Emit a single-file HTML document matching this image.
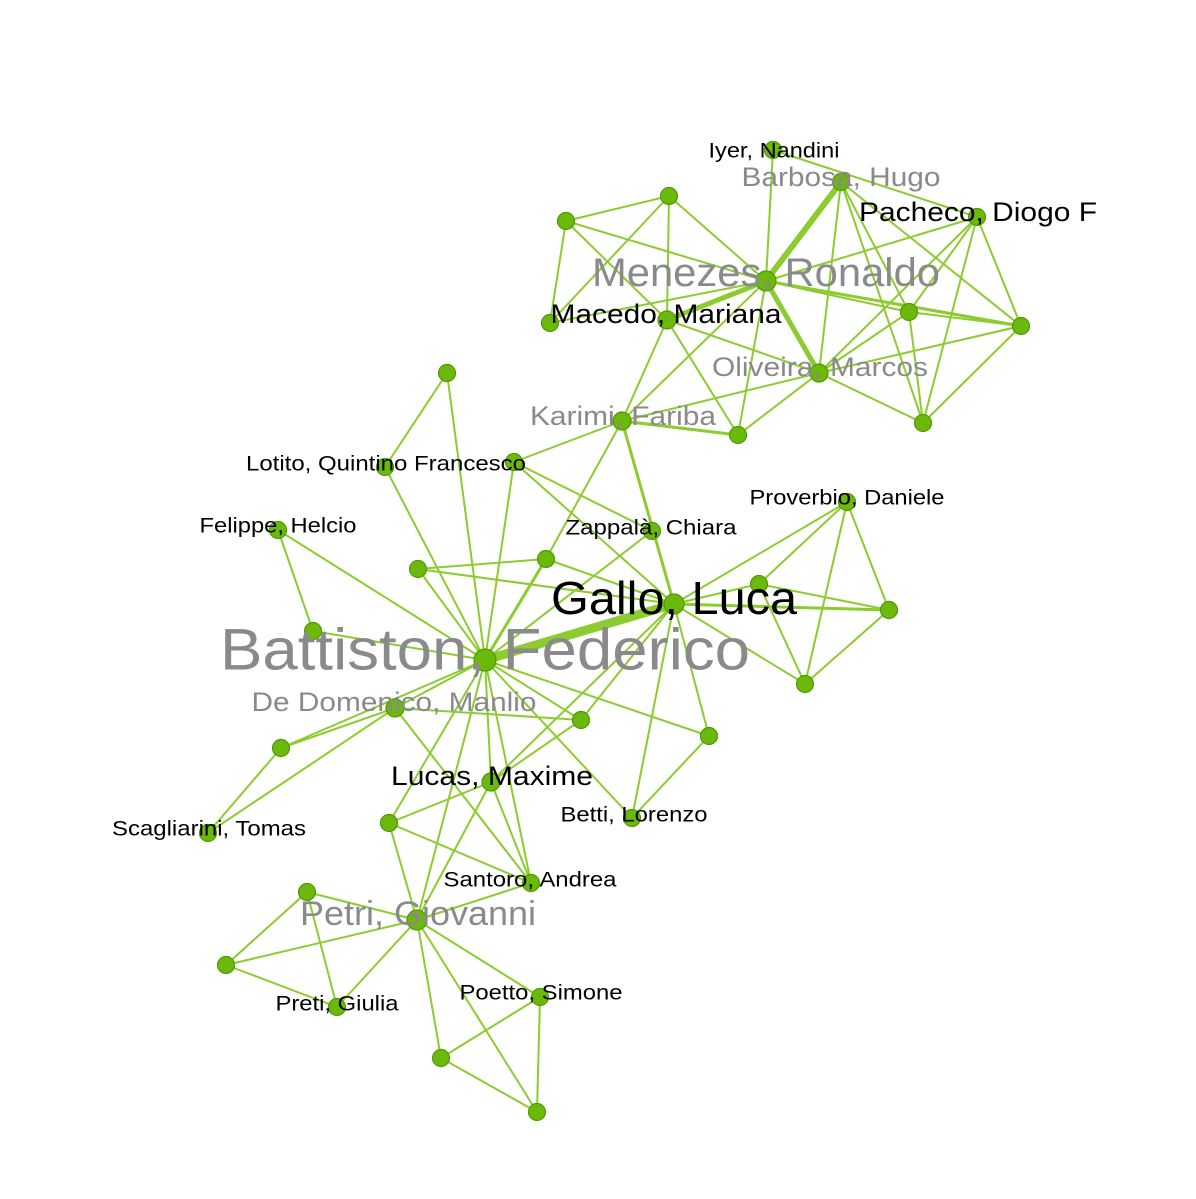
<!DOCTYPE html>
<html><head><meta charset="utf-8"><style>
html,body{margin:0;padding:0;background:#fff;}
svg{display:block;}
text{font-family:"Liberation Sans",sans-serif;text-anchor:middle;dominant-baseline:central;}
</style></head><body>
<svg width="1196" height="1199" viewBox="0 0 1196 1199">
<g stroke="#8ccc2e" stroke-width="2" fill="none" stroke-linecap="round">
<line x1="566" y1="221" x2="669" y2="196"/>
<line x1="566" y1="221" x2="550" y2="323"/>
<line x1="566" y1="221" x2="766" y2="281"/>
<line x1="566" y1="221" x2="667" y2="320"/>
<line x1="669" y1="196" x2="550" y2="323"/>
<line x1="669" y1="196" x2="667" y2="320"/>
<line x1="669" y1="196" x2="766" y2="281"/>
<line x1="550" y1="323" x2="766" y2="281"/>
<line x1="667" y1="320" x2="766" y2="281" stroke-width="5"/>
<line x1="773" y1="150" x2="766" y2="281"/>
<line x1="773" y1="150" x2="977" y2="217"/>
<line x1="841" y1="182" x2="766" y2="281" stroke-width="6"/>
<line x1="841" y1="182" x2="819" y2="373"/>
<line x1="841" y1="182" x2="923" y2="423"/>
<line x1="841" y1="182" x2="909" y2="312"/>
<line x1="841" y1="182" x2="1021" y2="326"/>
<line x1="977" y1="217" x2="766" y2="281"/>
<line x1="977" y1="217" x2="909" y2="312"/>
<line x1="977" y1="217" x2="819" y2="373"/>
<line x1="977" y1="217" x2="923" y2="423"/>
<line x1="977" y1="217" x2="1021" y2="326"/>
<line x1="766" y1="281" x2="819" y2="373" stroke-width="5"/>
<line x1="766" y1="281" x2="909" y2="312"/>
<line x1="766" y1="281" x2="1021" y2="326" stroke-width="3"/>
<line x1="766" y1="281" x2="738" y2="435"/>
<line x1="766" y1="281" x2="622" y2="421"/>
<line x1="667" y1="320" x2="622" y2="421"/>
<line x1="667" y1="320" x2="738" y2="435"/>
<line x1="667" y1="320" x2="819" y2="373"/>
<line x1="819" y1="373" x2="622" y2="421"/>
<line x1="819" y1="373" x2="738" y2="435"/>
<line x1="819" y1="373" x2="909" y2="312"/>
<line x1="819" y1="373" x2="1021" y2="326"/>
<line x1="819" y1="373" x2="923" y2="423"/>
<line x1="909" y1="312" x2="923" y2="423"/>
<line x1="909" y1="312" x2="1021" y2="326"/>
<line x1="1021" y1="326" x2="923" y2="423"/>
<line x1="622" y1="421" x2="738" y2="435" stroke-width="3"/>
<line x1="447" y1="373" x2="385" y2="467"/>
<line x1="447" y1="373" x2="485" y2="660"/>
<line x1="385" y1="467" x2="485" y2="660"/>
<line x1="514" y1="462" x2="622" y2="421"/>
<line x1="514" y1="462" x2="485" y2="660"/>
<line x1="514" y1="462" x2="652" y2="531"/>
<line x1="514" y1="462" x2="674" y2="604"/>
<line x1="622" y1="421" x2="674" y2="604" stroke-width="3"/>
<line x1="622" y1="421" x2="546" y2="559"/>
<line x1="278" y1="530" x2="313" y2="631"/>
<line x1="278" y1="530" x2="485" y2="660"/>
<line x1="313" y1="631" x2="485" y2="660"/>
<line x1="418" y1="569" x2="546" y2="559"/>
<line x1="418" y1="569" x2="674" y2="604"/>
<line x1="418" y1="569" x2="485" y2="660"/>
<line x1="546" y1="559" x2="485" y2="660" stroke-width="3"/>
<line x1="546" y1="559" x2="674" y2="604"/>
<line x1="652" y1="531" x2="485" y2="660"/>
<line x1="485" y1="660" x2="674" y2="604" stroke-width="9"/>
<line x1="674" y1="604" x2="847" y2="502"/>
<line x1="674" y1="604" x2="759" y2="584"/>
<line x1="674" y1="604" x2="889" y2="610" stroke-width="3"/>
<line x1="674" y1="604" x2="805" y2="684"/>
<line x1="674" y1="604" x2="709" y2="736"/>
<line x1="674" y1="604" x2="491" y2="782"/>
<line x1="674" y1="604" x2="632" y2="818"/>
<line x1="674" y1="604" x2="581" y2="720"/>
<line x1="847" y1="502" x2="759" y2="584"/>
<line x1="847" y1="502" x2="889" y2="610"/>
<line x1="847" y1="502" x2="805" y2="684"/>
<line x1="759" y1="584" x2="889" y2="610"/>
<line x1="759" y1="584" x2="805" y2="684"/>
<line x1="889" y1="610" x2="805" y2="684"/>
<line x1="485" y1="660" x2="395" y2="708"/>
<line x1="485" y1="660" x2="581" y2="720"/>
<line x1="485" y1="660" x2="709" y2="736"/>
<line x1="485" y1="660" x2="491" y2="782"/>
<line x1="485" y1="660" x2="632" y2="818"/>
<line x1="485" y1="660" x2="417" y2="920"/>
<line x1="485" y1="660" x2="389" y2="823"/>
<line x1="485" y1="660" x2="531" y2="883"/>
<line x1="485" y1="660" x2="281" y2="748"/>
<line x1="395" y1="708" x2="581" y2="720"/>
<line x1="395" y1="708" x2="281" y2="748"/>
<line x1="395" y1="708" x2="208" y2="833"/>
<line x1="395" y1="708" x2="531" y2="883"/>
<line x1="281" y1="748" x2="208" y2="833"/>
<line x1="581" y1="720" x2="491" y2="782"/>
<line x1="709" y1="736" x2="632" y2="818"/>
<line x1="491" y1="782" x2="389" y2="823"/>
<line x1="491" y1="782" x2="531" y2="883"/>
<line x1="491" y1="782" x2="417" y2="920"/>
<line x1="389" y1="823" x2="531" y2="883"/>
<line x1="389" y1="823" x2="417" y2="920"/>
<line x1="531" y1="883" x2="417" y2="920"/>
<line x1="417" y1="920" x2="307" y2="892"/>
<line x1="417" y1="920" x2="226" y2="965"/>
<line x1="417" y1="920" x2="337" y2="1007"/>
<line x1="417" y1="920" x2="540" y2="997"/>
<line x1="417" y1="920" x2="441" y2="1058"/>
<line x1="417" y1="920" x2="537" y2="1112"/>
<line x1="307" y1="892" x2="226" y2="965"/>
<line x1="307" y1="892" x2="337" y2="1007"/>
<line x1="226" y1="965" x2="337" y2="1007"/>
<line x1="540" y1="997" x2="441" y2="1058"/>
<line x1="540" y1="997" x2="537" y2="1112"/>
<line x1="441" y1="1058" x2="537" y2="1112"/>
</g>
<g fill="#6cb80b" stroke="#4e9a06" stroke-width="1.2">
<circle cx="773" cy="150" r="8.5"/><circle cx="841" cy="182" r="8.5"/><circle cx="977" cy="217" r="8.5"/>
<circle cx="566" cy="221" r="8.5"/><circle cx="669" cy="196" r="8.5"/><circle cx="766" cy="281" r="10"/>
<circle cx="667" cy="320" r="9"/><circle cx="550" cy="323" r="8.5"/><circle cx="909" cy="312" r="8.5"/>
<circle cx="1021" cy="326" r="8.5"/><circle cx="819" cy="373" r="9"/><circle cx="622" cy="421" r="9"/>
<circle cx="738" cy="435" r="8.5"/><circle cx="923" cy="423" r="8.5"/>
<circle cx="447" cy="373" r="8.5"/><circle cx="385" cy="467" r="8.5"/><circle cx="514" cy="462" r="8.5"/>
<circle cx="278" cy="530" r="8.5"/><circle cx="652" cy="531" r="8.5"/><circle cx="847" cy="502" r="8.5"/>
<circle cx="418" cy="569" r="8.5"/><circle cx="546" cy="559" r="8.5"/><circle cx="759" cy="584" r="8.5"/>
<circle cx="674" cy="604" r="10"/><circle cx="889" cy="610" r="8.5"/><circle cx="313" cy="631" r="8.5"/>
<circle cx="485" cy="660" r="11"/><circle cx="805" cy="684" r="8.5"/><circle cx="395" cy="708" r="9"/>
<circle cx="581" cy="720" r="8.5"/><circle cx="709" cy="736" r="8.5"/><circle cx="281" cy="748" r="8.5"/>
<circle cx="491" cy="782" r="9"/><circle cx="389" cy="823" r="8.5"/><circle cx="632" cy="818" r="8.5"/>
<circle cx="208" cy="833" r="8.5"/><circle cx="531" cy="883" r="8.5"/><circle cx="307" cy="892" r="8.5"/>
<circle cx="417" cy="920" r="10"/><circle cx="226" cy="965" r="8.5"/><circle cx="337" cy="1007" r="8.5"/>
<circle cx="540" cy="997" r="8.5"/><circle cx="441" cy="1058" r="8.5"/><circle cx="537" cy="1112" r="8.5"/>
</g>
<g lengthAdjust="spacingAndGlyphs">
<text x="485" y="650" font-size="58" fill="#8a8a8a" textLength="530" lengthAdjust="spacingAndGlyphs">Battiston, Federico</text>
<text x="674" y="598" font-size="46" fill="#000" textLength="246" lengthAdjust="spacingAndGlyphs">Gallo, Luca</text>
<text x="766" y="273" font-size="40" fill="#8a8a8a" textLength="348" lengthAdjust="spacingAndGlyphs">Menezes, Ronaldo</text>
<text x="418" y="914" font-size="34" fill="#8a8a8a" textLength="236" lengthAdjust="spacingAndGlyphs">Petri, Giovanni</text>
<text x="666" y="314" font-size="27" fill="#000" textLength="231" lengthAdjust="spacingAndGlyphs">Macedo, Mariana</text>
<text x="978" y="212" font-size="27" fill="#000" textLength="238" lengthAdjust="spacingAndGlyphs">Pacheco, Diogo F</text>
<text x="492" y="776" font-size="27" fill="#000" textLength="202" lengthAdjust="spacingAndGlyphs">Lucas, Maxime</text>
<text x="820" y="367" font-size="27" fill="#8a8a8a" textLength="216" lengthAdjust="spacingAndGlyphs">Oliveira, Marcos</text>
<text x="623" y="416" font-size="27" fill="#8a8a8a" textLength="186" lengthAdjust="spacingAndGlyphs">Karimi, Fariba</text>
<text x="841" y="177" font-size="27" fill="#8a8a8a" textLength="199" lengthAdjust="spacingAndGlyphs">Barbosa, Hugo</text>
<text x="394" y="702" font-size="27" fill="#8a8a8a" textLength="285" lengthAdjust="spacingAndGlyphs">De Domenico, Manlio</text>
<text x="774" y="151" font-size="21" fill="#000" textLength="131" lengthAdjust="spacingAndGlyphs">Iyer, Nandini</text>
<text x="386" y="464" font-size="21" fill="#000" textLength="280" lengthAdjust="spacingAndGlyphs">Lotito, Quintino Francesco</text>
<text x="278" y="526" font-size="21" fill="#000" textLength="157" lengthAdjust="spacingAndGlyphs">Felippe, Helcio</text>
<text x="651" y="528" font-size="21" fill="#000" textLength="171" lengthAdjust="spacingAndGlyphs">Zappalà, Chiara</text>
<text x="847" y="498" font-size="21" fill="#000" textLength="195" lengthAdjust="spacingAndGlyphs">Proverbio, Daniele</text>
<text x="634" y="815" font-size="21" fill="#000" textLength="147" lengthAdjust="spacingAndGlyphs">Betti, Lorenzo</text>
<text x="209" y="829" font-size="21" fill="#000" textLength="194" lengthAdjust="spacingAndGlyphs">Scagliarini, Tomas</text>
<text x="530" y="880" font-size="21" fill="#000" textLength="173" lengthAdjust="spacingAndGlyphs">Santoro, Andrea</text>
<text x="541" y="993" font-size="21" fill="#000" textLength="163" lengthAdjust="spacingAndGlyphs">Poetto, Simone</text>
<text x="337" y="1004" font-size="21" fill="#000" textLength="123" lengthAdjust="spacingAndGlyphs">Preti, Giulia</text>
</g>
</svg>
</body></html>
